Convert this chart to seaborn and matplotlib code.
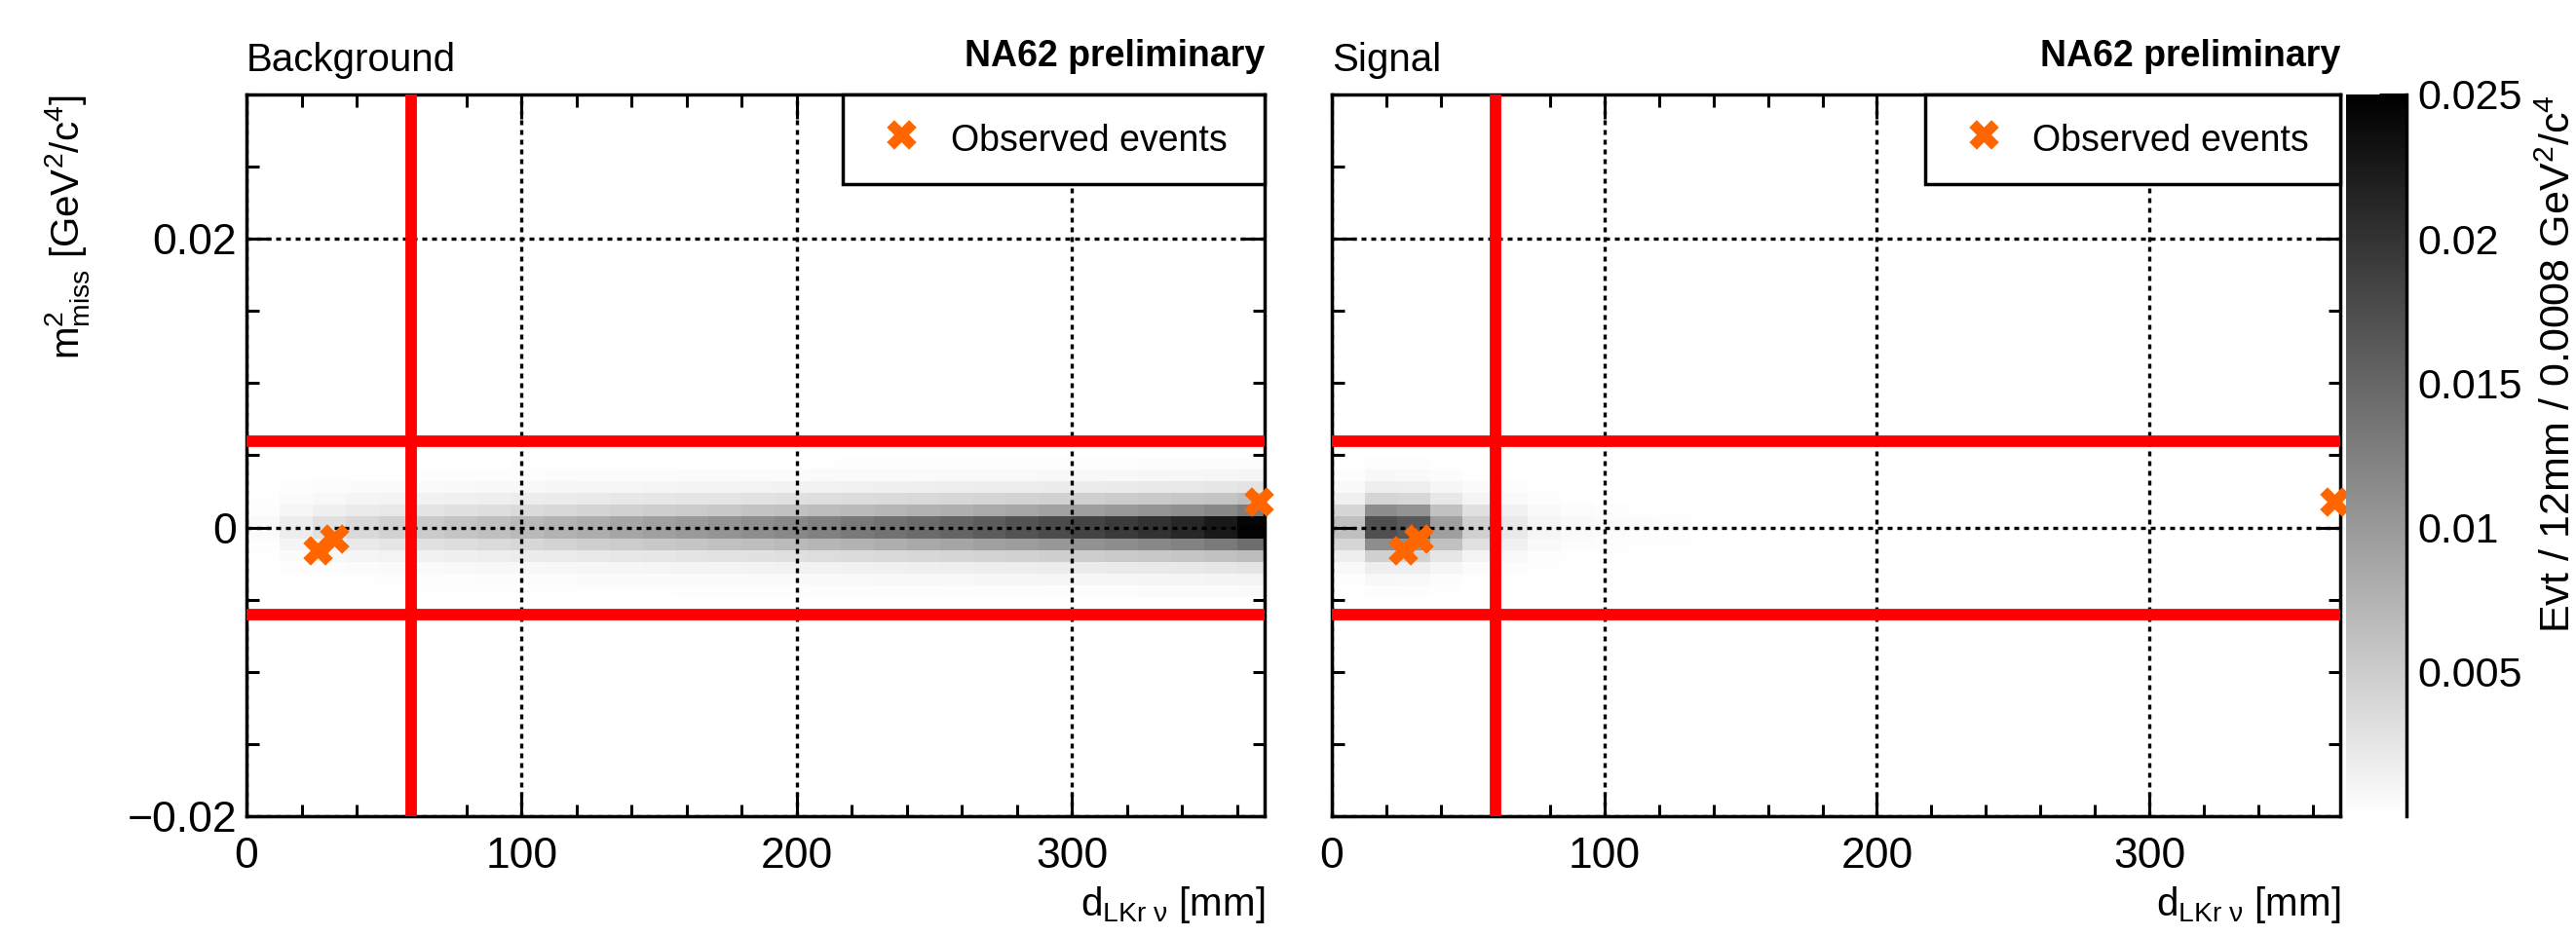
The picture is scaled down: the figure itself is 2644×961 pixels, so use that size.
"""
NA62 preliminary: m2_miss versus d_LKr,nu for the background and the
signal expectation, with the observed events and the selection cuts.
Writes out.png.
"""

import matplotlib
matplotlib.use("Agg")
import matplotlib.pyplot as plt
import numpy as np
import pandas as pd
import seaborn as sns
from matplotlib.ticker import FuncFormatter, MultipleLocator

# histogram binning: 12 mm x 0.0008 GeV^2/c^4 (only the populated band)
X_EDGES = np.arange(0, 373, 12)
Y_EDGES = np.linspace(-0.0048, 0.0048, 13)

# peak content of each 12 mm column, Evt per bin
BKG_PEAK = [0.0005, 0.0018, 0.0030, 0.0038, 0.0045, 0.0051, 0.0057, 0.0063,
            0.0069, 0.0075, 0.0081, 0.0087, 0.0093, 0.0099, 0.0105, 0.0111,
            0.0117, 0.0124, 0.0131, 0.0138, 0.0145, 0.0152, 0.0160, 0.0168,
            0.0176, 0.0184, 0.0192, 0.0201, 0.0211, 0.0225, 0.0245]
SIG_PEAK = [0.0062, 0.0172, 0.0163, 0.0094, 0.0046, 0.0022, 0.0010, 0.0006,
            0.0004, 0.0003, 0.0002, 0, 0, 0, 0, 0, 0, 0, 0, 0, 0, 0, 0, 0,
            0, 0, 0, 0, 0, 0, 0]
# share of the column peak in each m2 row, bottom to top
BKG_ROWS = [0.02, 0.05, 0.11, 0.27, 0.58, 1.0, 1.0, 0.52, 0.26, 0.11, 0.04, 0.015]
SIG_ROWS = [0.015, 0.04, 0.10, 0.27, 0.65, 1.0, 1.0, 0.65, 0.24, 0.10, 0.04, 0.015]

# observed events (same in both panels)
EVENT_D = [26, 32, 368]
EVENT_M2 = [-0.0016, -0.0008, 0.0018]

D_CUT = 60
M2_CUT = 0.006

CBAR_MAX = 0.025
CBAR_TICKS = [0.005, 0.01, 0.015, 0.02, 0.025]

ORANGE = "#ff6600"


def _cells(peaks, rows) -> pd.DataFrame:
    xc = (X_EDGES[:-1] + X_EDGES[1:]) / 2
    yc = (Y_EDGES[:-1] + Y_EDGES[1:]) / 2
    recs = []
    for x, p in zip(xc, peaks):
        for y, r in zip(yc, rows):
            if p * r > 0:
                recs.append((x, y, p * r))
    return pd.DataFrame(recs, columns=["d", "m2", "w"])


def _fmt(v, _):
    if abs(v) < 1e-12:
        return "0"
    return f"{v:g}".replace("-", "\u2212")


def draw_panel(ax, df, title, legend_x):
    sns.histplot(data=df, x="d", y="m2", weights="w", bins=(X_EDGES, Y_EDGES),
                 cmap="gray_r", vmin=0, vmax=CBAR_MAX, ax=ax)
    ax.set_xlim(0, 370)
    ax.set_ylim(-0.02, 0.03)

    ax.axvline(D_CUT, color="red", lw=8.5, zorder=3)
    for m in (-M2_CUT, M2_CUT):
        ax.axhline(m, color="red", lw=8.5, zorder=3)

    sns.scatterplot(x=EVENT_D, y=EVENT_M2, marker="X", s=480, color=ORANGE,
                    linewidth=0, clip_on=False, zorder=6,
                    label="Observed events", ax=ax)

    ax.xaxis.set_major_locator(MultipleLocator(100))
    ax.xaxis.set_minor_locator(MultipleLocator(20))
    ax.yaxis.set_major_locator(MultipleLocator(0.02))
    ax.yaxis.set_minor_locator(MultipleLocator(0.005))
    ax.yaxis.set_major_formatter(FuncFormatter(_fmt))
    ax.tick_params(which="both", direction="in", top=True, right=True,
                   width=2.2, color="black")
    ax.tick_params(which="major", length=18, labelsize=32)
    ax.tick_params(which="minor", length=9)
    ax.tick_params(axis="x", pad=15)
    ax.tick_params(axis="y", pad=7)
    for s in ax.spines.values():
        s.set_linewidth(2.5)
        s.set_color("black")

    ax.set_axisbelow(False)
    ax.grid(True, which="major", color="black", linestyle=(0, (1.5, 1.5)),
            linewidth=2.4)

    ax.set_xlabel(r"$\mathrm{d}_{\mathrm{LKr\ \nu}}$ [mm]", fontsize=29,
                  loc="right")
    ax.xaxis.set_label_coords(1.0, -0.095)
    ax.set_ylabel("")

    ax.text(0, 1.032, title, transform=ax.transAxes, fontsize=29,
            ha="left", va="baseline")
    ax.text(1, 1.039, "NA62 preliminary", transform=ax.transAxes, fontsize=27,
            fontweight="bold", ha="right", va="baseline")

    leg = ax.legend(loc="upper left", bbox_to_anchor=(legend_x, 0.0, 1 - legend_x, 1.0),
                    mode="expand", borderaxespad=0, fontsize=27, fancybox=False,
                    framealpha=1, edgecolor="black", borderpad=0.6,
                    handletextpad=0.35, handlelength=2.0, handleheight=1.55)
    leg.get_frame().set_linewidth(2.5)


sns.set_style("ticks", rc={"axes.edgecolor": "black", "xtick.color": "black",
                           "ytick.color": "black", "text.color": "black",
                           "axes.labelcolor": "black"})
plt.rcParams["font.family"] = ["Liberation Sans", "DejaVu Sans"]
plt.rcParams["mathtext.fontset"] = "custom"
plt.rcParams["mathtext.rm"] = "Liberation Sans"
plt.rcParams["mathtext.it"] = "Liberation Sans:italic"

fig = plt.figure(figsize=(26.44, 9.61), dpi=100)
ax1 = fig.add_axes([0.0957, 0.128, 0.3952, 0.7711])
ax2 = fig.add_axes([0.5170, 0.128, 0.3915, 0.7711])
cax = fig.add_axes([0.9107, 0.128, 0.0235, 0.7711])

draw_panel(ax1, _cells(BKG_PEAK, BKG_ROWS), "Background", 0.586)
draw_panel(ax2, _cells(SIG_PEAK, SIG_ROWS), "Signal", 0.588)
ax2.tick_params(labelleft=False)

ax1.set_ylabel(r"$\mathrm{m}^{2}_{\mathrm{miss}}$ [GeV$^{2}$/c$^{4}$]",
               fontsize=29, loc="top")
ax1.yaxis.set_label_coords(-0.1525, 1.0)

cb = fig.colorbar(ax2.collections[0], cax=cax, ticks=CBAR_TICKS)
cb.outline.set_visible(False)
cax.spines["right"].set_visible(True)
cax.spines["right"].set_linewidth(2.5)
cax.minorticks_off()
cax.tick_params(direction="in", length=20, width=2.2, labelsize=31, pad=8,
                color="black")
cax.yaxis.set_major_formatter(FuncFormatter(_fmt))
cax.set_ylabel(r"Evt / 12mm / 0.0008 GeV$^{2}$/c$^{4}$", fontsize=31,
               loc="top")
cax.yaxis.set_label_coords(3.2, 1.0)

fig.savefig("out.png", dpi=100, facecolor="white")
